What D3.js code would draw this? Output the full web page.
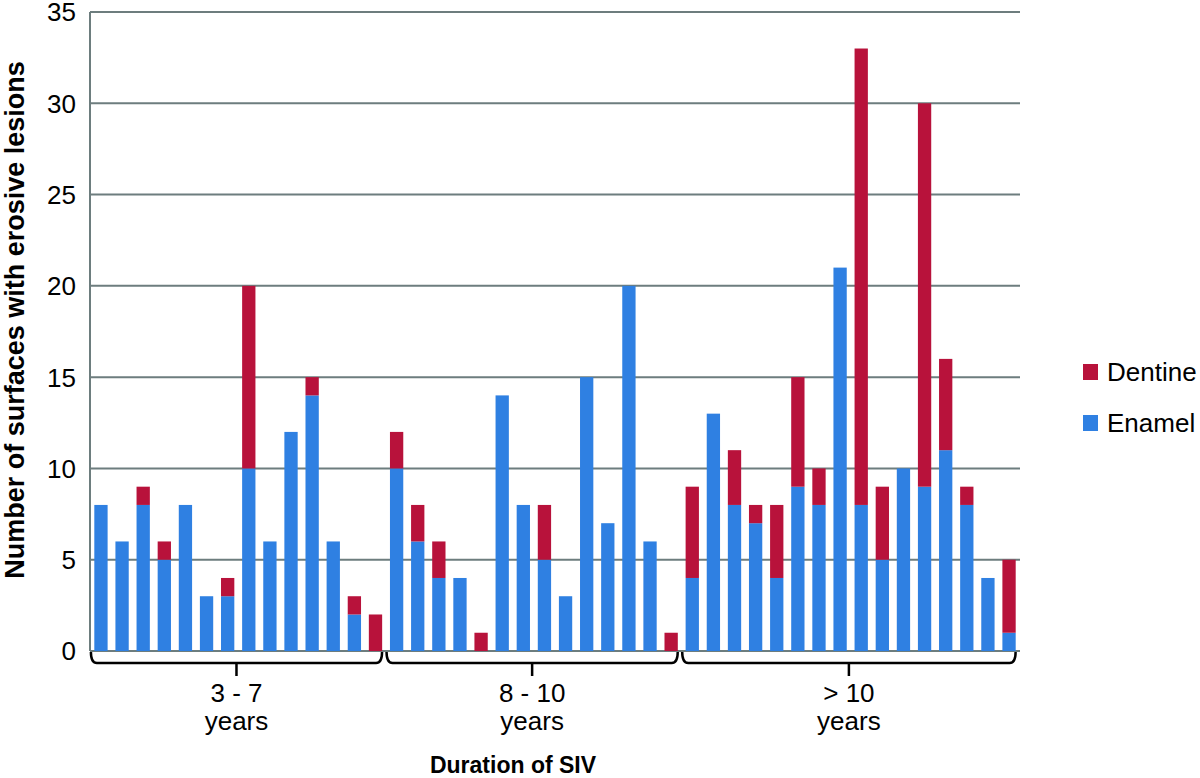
<!DOCTYPE html>
<html>
<head>
<meta charset="utf-8">
<script src="https://cdn.jsdelivr.net/npm/d3@7.9.0/dist/d3.min.js"></script>
<style>
  body { margin: 0; background: #fff; }
  text { font-family: "Liberation Sans", Arial, sans-serif; fill: #000; }
</style>
</head>
<body>
<svg id="chart" width="1200" height="778"></svg>
<script>
// bar values per patient
const enamel = [
  8, 6, 8, 5, 8, 3, 3, 10, 6, 12, 14, 6, 2, 0,
  10, 6, 4, 4, 0, 14, 8, 5, 3, 15, 7, 20, 6, 0,
  4, 13, 8, 7, 4, 9, 8, 21, 8, 5, 10, 9, 11, 8, 4, 1
];
const dentine = [
  0, 0, 1, 1, 0, 0, 1, 10, 0, 0, 1, 0, 1, 2,
  2, 2, 2, 0, 1, 0, 0, 3, 0, 0, 0, 0, 0, 1,
  5, 0, 3, 1, 4, 6, 2, 0, 25, 4, 0, 21, 5, 1, 0, 4
];
const groupNames = ["3 - 7", "8 - 10", "> 10"];
const groupSizes = [14, 14, 16];
const yTicks = [0, 5, 10, 15, 20, 25, 30, 35];
const seriesNames = ["Dentine", "Enamel"];

const colors = { Enamel: "#2f80e2", Dentine: "#b8123b" };
const gridColor = "#6d7d7e";

const rows = enamel.map((e, i) => ({ id: i, Enamel: e, Dentine: dentine[i] }));

const svg = d3.select("#chart");

const x = d3.scaleBand()
  .domain(rows.map(d => d.id))
  .range([90.4, 1019.6])
  .paddingInner(0.37)
  .paddingOuter(0.185);

const y = d3.scaleLinear()
  .domain([0, 35])
  .range([651, 12]);

// gridlines
svg.append("g")
  .selectAll("line")
  .data(yTicks)
  .join("line")
  .attr("x1", 90).attr("x2", 1020)
  .attr("y1", d => y(d)).attr("y2", d => y(d))
  .attr("stroke", gridColor)
  .attr("stroke-width", 2);

// y axis line
svg.append("line")
  .attr("x1", 90).attr("x2", 90)
  .attr("y1", y(35)).attr("y2", y(0))
  .attr("stroke", gridColor)
  .attr("stroke-width", 2);

// y tick labels
svg.append("g")
  .selectAll("text")
  .data(yTicks)
  .join("text")
  .attr("x", 76)
  .attr("y", d => y(d))
  .attr("dy", "0.36em")
  .attr("text-anchor", "end")
  .attr("font-size", 26)
  .text(d => d);

// stacked bars
const stack = d3.stack().keys(["Enamel", "Dentine"]);
const layers = stack(rows);

svg.append("g")
  .selectAll("g")
  .data(layers)
  .join("g")
  .attr("fill", d => colors[d.key])
  .selectAll("rect")
  .data(d => d)
  .join("rect")
  .attr("x", d => x(d.data.id))
  .attr("width", x.bandwidth())
  .attr("y", d => y(d[1]))
  .attr("height", d => y(d[0]) - y(d[1]));

// group braces and labels
let start = 0;
const groups = groupNames.map((name, i) => {
  const g = { name, first: start, last: start + groupSizes[i] - 1 };
  start += groupSizes[i];
  return g;
});

const step = x.step();
groups.forEach(g => {
  const x0 = x(g.first) - x.paddingInner() * step / 2 + 0.5;
  const x1 = x(g.last) + x.bandwidth() + x.paddingInner() * step / 2 - 4;
  const xc = (x0 + x1) / 2;
  svg.append("path")
    .attr("d", `M${x0},652 Q${x0},663 ${x0 + 6},663 H${x1 - 6} Q${x1},663 ${x1},652 M${xc},663 V676`)
    .attr("fill", "none")
    .attr("stroke", "#000")
    .attr("stroke-width", 2.5);
  svg.append("text")
    .attr("x", xc).attr("y", 702)
    .attr("text-anchor", "middle")
    .attr("font-size", 26)
    .text(g.name);
  svg.append("text")
    .attr("x", xc).attr("y", 730)
    .attr("text-anchor", "middle")
    .attr("font-size", 26)
    .text("years");
});

// axis titles
svg.append("text")
  .attr("x", 513).attr("y", 773)
  .attr("text-anchor", "middle")
  .attr("font-size", 23)
  .attr("font-weight", "bold")
  .text("Duration of SIV");

svg.append("text")
  .attr("transform", "translate(24,320) rotate(-90)")
  .attr("text-anchor", "middle")
  .attr("font-size", 27)
  .attr("font-weight", "bold")
  .text("Number of surfaces with erosive lesions");

// legend
const legend = svg.append("g")
  .selectAll("g")
  .data(seriesNames)
  .join("g")
  .attr("transform", (d, i) => `translate(1083,${372 + i * 51})`);

legend.append("rect")
  .attr("x", 0).attr("y", -8)
  .attr("width", 15).attr("height", 16)
  .attr("fill", d => colors[d]);

legend.append("text")
  .attr("x", 24).attr("y", 0)
  .attr("dy", "0.36em")
  .attr("font-size", 26)
  .text(d => d);
</script>
</body>
</html>
